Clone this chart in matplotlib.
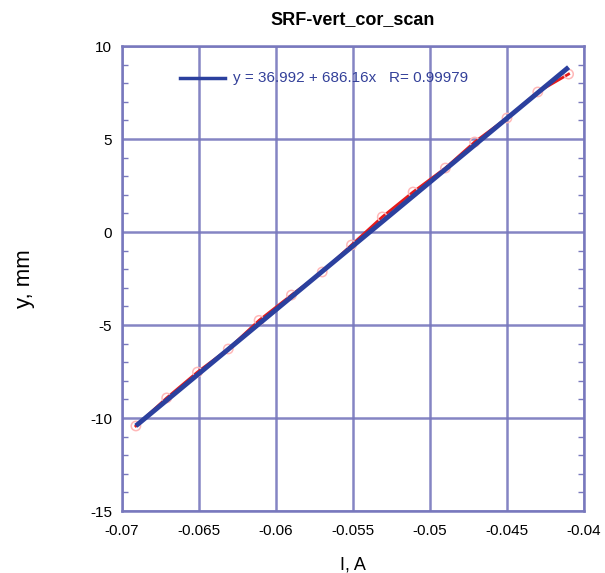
import numpy as np
import matplotlib
matplotlib.use("Agg")
import matplotlib.pyplot as plt
from matplotlib.ticker import MultipleLocator

plt.rcParams['font.family'] = ['Liberation Sans', 'DejaVu Sans']
plt.rcParams['axes.unicode_minus'] = False

# Data
current = [-0.0691, -0.0671, -0.0651, -0.0631, -0.0611, -0.0590, -0.0570, -0.0551,
           -0.0531, -0.0511, -0.0490, -0.0471, -0.0450, -0.0430, -0.0410]
position = [-10.43, -8.92, -7.53, -6.29, -4.75, -3.39, -2.15, -0.70,
            0.81, 2.15, 3.44, 4.84, 6.13, 7.53, 8.49]
fit_intercept = 36.992
fit_slope = 686.16
fit_R = 0.99979
x_ticks = [-0.07, -0.065, -0.06, -0.055, -0.05, -0.045, -0.04]
x_ticklabels = ["-0.07", "-0.065", "-0.06", "-0.055", "-0.05", "-0.045", "-0.04"]
y_ticks = [-15, -10, -5, 0, 5, 10]

grid_c = (0.47, 0.47, 0.74)
fit_c = (0.17, 0.25, 0.62)
text_c = (0.2, 0.25, 0.6)

fig = plt.figure(figsize=(6.05, 5.73), dpi=100)
ax = fig.add_axes([0.2017, 0.1082, 0.7636, 0.8115])

xs = np.array(current)
ax.plot(xs, position, color=(0.9, 0.1, 0.1), lw=2, zorder=3)
ax.scatter(xs, position, s=45, facecolors='none', edgecolors=(1.0, 0.72, 0.72), lw=1.1, zorder=3)
xf = np.array([current[0], current[-1]])
ax.plot(xf, fit_intercept + fit_slope * xf, color=fit_c, lw=3.5, zorder=4,
        solid_capstyle='butt')

ax.set_xlim(-0.07, -0.04)
ax.set_ylim(-15, 10)
ax.set_xticks(x_ticks)
ax.set_xticklabels(x_ticklabels)
ax.set_yticks(y_ticks)
ax.yaxis.set_minor_locator(MultipleLocator(1))
ax.grid(True, which='major', color=grid_c, lw=1.8, alpha=0.9)
for s in ax.spines.values():
    s.set_color(grid_c)
    s.set_linewidth(1.8)
ax.tick_params(axis='both', which='major', direction='in', length=0, labelsize=11, pad=7)
ax.tick_params(axis='y', which='minor', direction='in', length=4, color=grid_c,
               left=True, right=True, width=1)
ax.tick_params(axis='x', which='major', pad=9)

ax.set_title("SRF-vert_cor_scan", fontsize=13, fontweight='bold', pad=16)
ax.set_xlabel("I, A", fontsize=13, labelpad=14)
ax.set_ylabel("y, mm", fontsize=16, labelpad=40)

# legend-like text
ax.plot([-0.06625, -0.0633], [8.3, 8.3], color=fit_c, lw=2.5, zorder=5)
ax.text(-0.0628, 8.3, "y = %.3f + %.2fx   R= %.5f" % (fit_intercept, fit_slope, fit_R),
        color=text_c, fontsize=11, va='center', ha='left', zorder=5)

fig.savefig("out.png", dpi=100)
